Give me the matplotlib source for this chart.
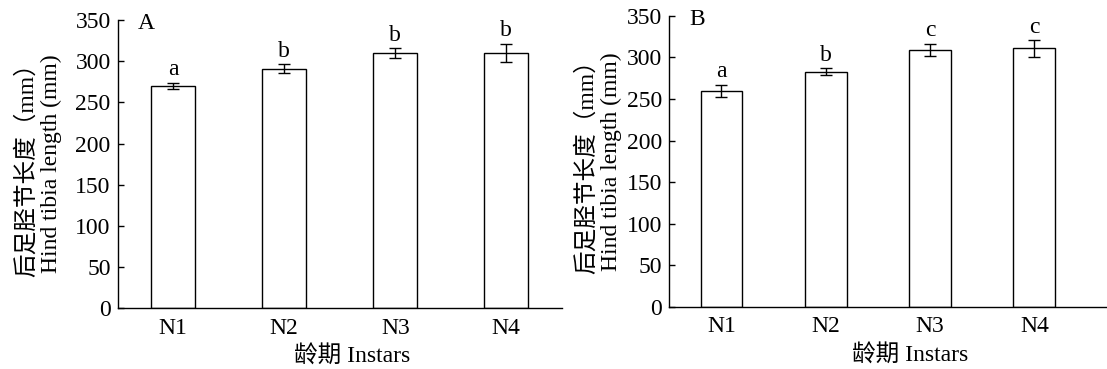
#!/usr/bin/env python3
"""Hind tibia length by instar, two panels (A, B) with SE bars and letters."""
import matplotlib

matplotlib.use("Agg")
import matplotlib.pyplot as plt
import matplotlib.transforms as mtransforms
import numpy as np

plt.rcParams["font.family"] = ["Liberation Serif", "Noto Sans CJK SC"]
plt.rcParams["font.size"] = 17

instars = ["N1", "N2", "N3", "N4"]

mean_a = [270, 291, 310, 310]
err_a = [4, 5, 6, 11]
sig_a = ["a", "b", "b", "b"]

mean_b = [260, 283, 309, 311]
err_b = [7, 4, 7.5, 10]
sig_b = ["a", "b", "c", "c"]

yticks = [0, 50, 100, 150, 200, 250, 300, 350]

# tag, data, axes rect, xmax, xlabel x, y-label line offsets (px left of spine)
panels = [
    ("A", mean_a, err_a, sig_a, [0.1063, 0.1645, 0.4012, 0.7813], 3.5, 0.527, (-91, -66)),
    ("B", mean_b, err_b, sig_b, [0.6046, 0.1688, 0.3954, 0.7880], 3.697, 0.55, (-83, -58)),
]

fig = plt.figure(figsize=(11.07, 3.69), dpi=100)

for tag, means, errs, sigs, rect, xmax, xlab_x, ylab_dx in panels:
    ax = fig.add_axes(rect)
    x = np.arange(len(instars))
    ax.bar(x, means, width=0.4, color="white", edgecolor="black", linewidth=1.0, zorder=2)
    ax.errorbar(x, means, yerr=errs, fmt="none", ecolor="black", elinewidth=1.0,
                capsize=4, capthick=1.0, zorder=3)
    for xi, m, e, s in zip(x, means, errs, sigs):
        ax.text(xi, m + e + 9, s, ha="center", va="baseline")

    ax.set_xlim(-0.5, xmax)
    ax.set_ylim(0, 350)
    ax.set_yticks(yticks)
    ax.set_xticks(x)
    ax.set_xticklabels(instars)
    ax.tick_params(axis="x", length=0, pad=7)
    ax.tick_params(axis="y", direction="in", length=4, width=1.0, pad=5)
    ax.spines["top"].set_visible(False)
    ax.spines["right"].set_visible(False)
    for sp in ("left", "bottom"):
        ax.spines[sp].set_linewidth(1.0)

    # two-line y label, each line placed a fixed pixel distance left of the spine
    for dx, txt in zip(ylab_dx, ["后足胫节长度（mm）", "Hind tibia length (mm)"]):
        tr = ax.transAxes + mtransforms.ScaledTranslation(dx / 100.0, 0, fig.dpi_scale_trans)
        ax.text(0, 0.5, txt, transform=tr, rotation=90, ha="center", va="center")

    ax.set_xlabel("龄期 Instars", labelpad=5, x=xlab_x)
    ax.text(0.045, 1.024, tag, transform=ax.transAxes, ha="left", va="top")

fig.savefig("out.png", dpi=100)
